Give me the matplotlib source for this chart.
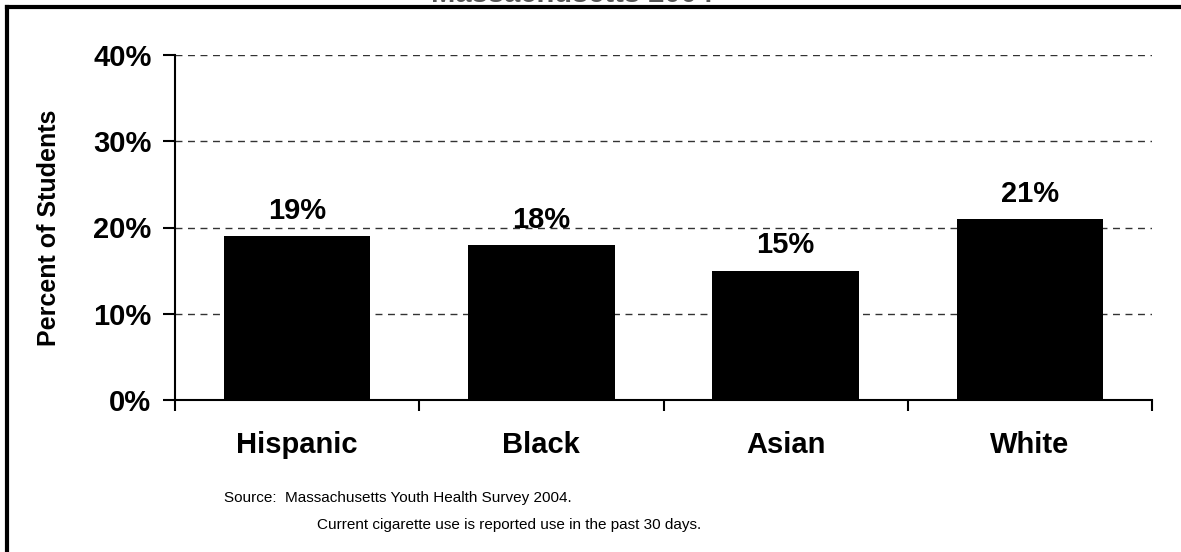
import matplotlib
matplotlib.use("Agg")
import matplotlib.pyplot as plt
from matplotlib.lines import Line2D

categories = ["Hispanic", "Black", "Asian", "White"]
values = [19, 18, 15, 21]
yticks = [0, 10, 20, 30, 40]
ytick_labels = ["0%", "10%", "20%", "30%", "40%"]
value_labels = ["19%", "18%", "15%", "21%"]
source_lines = ["Source:  Massachusetts Youth Health Survey 2004.",
                "Current cigarette use is reported use in the past 30 days."]
title = "Massachusetts 2004"

plt.rcParams['font.family'] = ['Liberation Sans', 'DejaVu Sans']

W, H = 1181, 552
fig = plt.figure(figsize=(W / 100, H / 100), dpi=100)
fig.patch.set_facecolor("white")

# outer frame (left and top visible)
fig.add_artist(Line2D([7 / W, 7 / W], [0, 1 - 6.5 / H], transform=fig.transFigure,
                      color="black", lw=3))
fig.add_artist(Line2D([7 / W, 1.0], [1 - 6.5 / H, 1 - 6.5 / H], transform=fig.transFigure,
                      color="black", lw=3))

# title, mostly above the picture's top edge as in the reference
fig.text(572 / W, 1 - 1.5 / H, title, ha="center", va="baseline",
         fontsize=21, fontweight="bold", color="#555555")

left, right = 175 / W, 1152 / W
bottom, top = 1 - 400 / H, 1 - 55 / H
ax = fig.add_axes([left, bottom, right - left, top - bottom])

x = list(range(len(categories)))
ax.bar(x, values, width=0.6, color="black", zorder=3)
ax.set_xlim(-0.5, len(categories) - 0.5)
ax.set_ylim(0, 40)

for yv in yticks[1:]:
    ax.axhline(yv, color="#333333", lw=1.0, ls=(0, (5, 4)), zorder=1)

for xi, v, lab in zip(x, values, value_labels):
    ax.text(xi, v + 1.3, lab, ha="center", va="bottom", fontsize=21,
            fontweight="bold")

ax.set_yticks(yticks)
ax.set_yticklabels(ytick_labels, fontsize=21, fontweight="bold")
ax.set_xticks([i - 0.5 for i in range(len(categories) + 1)])
ax.set_xticklabels([])
ax.set_xticks(x, minor=True)
ax.set_xticklabels(categories, minor=True, fontsize=21, fontweight="bold")
ax.tick_params(axis="x", which="minor", length=0, pad=22)
ax.tick_params(axis="x", which="major", direction="out", length=8, width=1.5)
ax.tick_params(axis="y", direction="out", length=9, width=1.5, pad=8)

for s in ["top", "right"]:
    ax.spines[s].set_visible(False)
ax.spines["left"].set_linewidth(1.5)
ax.spines["bottom"].set_linewidth(1.5)

ax.set_ylabel("Percent of Students", fontsize=18, fontweight="bold", labelpad=23)

fig.text(224 / W, 1 - 498 / H, source_lines[0], ha="left", va="center", fontsize=11)
fig.text(317 / W, 1 - 525 / H, source_lines[1], ha="left", va="center", fontsize=11)

fig.savefig("out.png", dpi=100, facecolor="white")
